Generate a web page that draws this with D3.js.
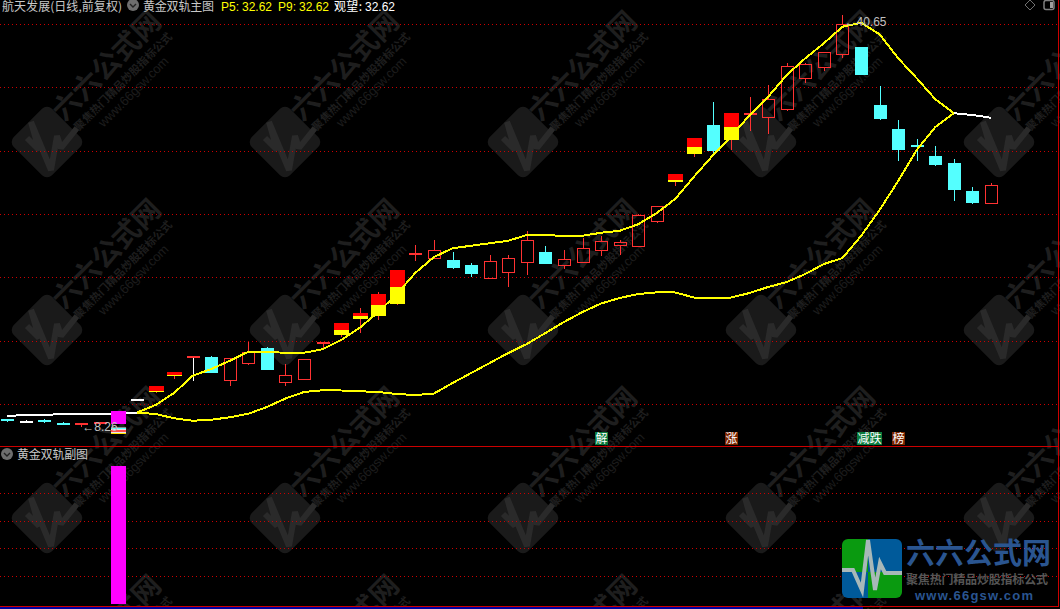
<!DOCTYPE html>
<html><head><meta charset="utf-8">
<style>html,body{margin:0;padding:0;background:#000;overflow:hidden}svg{display:block}text{font-family:"Noto Sans CJK SC","Liberation Sans",sans-serif}</style>
<script src="https://cdnjs.cloudflare.com/ajax/libs/d3/7.8.5/d3.min.js"></script>
</head><body><svg id="c" width="1060" height="609"></svg>
<script>
// kinds: d=cyan body, u=hollow red, s=red/yellow special, w=white line, r=red line, c=cyan line, t=red cap+white wick
const kinds=["d","w","d","c","r","r","s","w","s","s","t","d","u","u","d","u","u","r","s","s","s","s","r","u","d","d","u","u","u","d","u","u","u","u","u","u","s","s","d","s","r","u","u","u","u","u","d","d","d","c","d","d","d","u"];
const opens=[9.05,8.89,9.01,8.77,8.71,8.69,8.65,10.63,11.21,12.49,14.07,14.01,12.19,13.55,14.73,12.03,12.27,15.07,15.77,17.05,17.29,18.25,22.35,21.91,21.77,21.37,20.35,20.83,21.63,22.41,21.39,21.63,22.59,22.99,22.91,24.91,28.01,30.25,32.57,31.37,33.55,33.19,33.87,36.35,37.23,38.27,38.81,34.17,32.25,30.97,30.09,29.53,27.29,26.35];
const closes=[8.89,8.89,8.81,8.65,8.71,8.81,9.53,10.63,11.69,12.81,14.07,12.73,13.91,14.39,12.97,12.55,13.83,15.21,16.73,17.53,19.05,20.97,22.35,22.55,21.13,20.65,21.67,21.91,23.37,21.45,21.83,22.71,23.27,23.19,25.37,26.09,28.65,31.53,30.49,33.53,33.55,34.63,37.27,37.43,38.39,40.63,36.57,33.05,30.57,30.97,29.37,27.37,26.33,27.75];
const highs=[9.09,8.97,9.05,8.81,8.73,8.81,9.53,10.63,11.69,12.81,14.07,14.09,13.91,15.23,14.81,13.43,13.83,15.21,16.73,17.93,19.21,20.97,22.97,23.37,22.41,21.53,22.17,22.17,24.09,22.89,22.57,23.53,23.69,23.37,25.45,26.09,28.65,31.53,34.41,33.53,34.81,35.77,37.51,37.53,38.39,41.37,38.81,35.69,32.97,31.43,30.89,29.85,27.61,27.93];
const lows=[8.81,8.73,8.73,8.61,8.41,8.57,8.65,10.63,11.13,12.25,12.11,12.73,11.69,13.39,12.97,11.69,12.21,14.71,15.61,15.95,16.97,18.17,21.69,21.85,21.05,20.41,20.35,19.61,20.57,21.45,21.05,21.63,22.09,22.17,22.91,24.75,27.69,30.01,30.29,30.57,32.09,31.85,33.69,35.93,36.91,37.95,36.57,32.97,29.69,29.69,29.29,26.49,26.25,26.35];
// price where a special candle turns from red (above) to yellow (below), by candle index
const splits={6:9.0,8:11.33,9:12.57,18:16.17,19:17.29,20:18.17,21:19.61,36:28.17,37:30.81,39:32.41};
// P5 / P9 rails: white while they coincide, yellow once they separate
const whiteHead=[9.29,9.37,9.37,9.45,9.45,9.45,9.49,9.57];
const whiteTail=[33.51,33.37,33.15];
const upperRail=[9.57,10.17,11.13,12.51,13.05,13.71,14.43,14.41,14.35,14.35,14.63,15.37,16.35,17.61,19.05,20.75,22.01,22.71,22.91,23.11,23.31,23.77,23.77,23.69,23.71,23.95,24.11,24.63,25.53,26.67,28.43,30.11,31.63,33.37,34.83,36.57,37.91,39.11,40.43,40.75,39.83,37.91,36.31,34.63,33.51];
const lowerRail=[9.57,9.45,9.11,8.91,8.99,9.19,9.47,10.01,10.69,11.21,11.35,11.33,11.27,11.21,11.05,10.97,11.09,11.93,12.73,13.53,14.33,15.05,15.93,16.81,17.61,18.29,18.73,19.05,19.18,19.17,18.77,18.77,18.77,19.13,19.61,20.01,20.65,21.45,21.93,23.69,25.77,28.09,30.57,32.41,33.51];
const gridPrices=[40.63,35.57,30.47,25.41,20.35,15.29,10.23];
const subGrid=[20,40,60,80];
const signalIndex=6, signalMain=[9.69,8.65], signalSub=100;
const tags=[{t:"解",i:32,n:1,c:"#0a7a3c"},{t:"涨",i:39,n:1,c:"#7a2400"},{t:"减跌",i:46.1,n:2,c:"#0a7a3c"},{t:"榜",i:48,n:1,c:"#7a2400"}];
const titleMain="航天发展(日线,前复权)", titleInd="黄金双轨主图", titleSub="黄金双轨副图";
const readout=[["P5:",221,"#ffff00"],["32.62",242,"#ffff00"],["P9:",278,"#ffff00"],["32.62",299,"#ffff00"],["观望:",334,"#fff"],["32.62",365,"#fff"]];

const svg=d3.select("#c");
const W=1060,H=609;
svg.append("rect").attr("width",W).attr("height",H).attr("fill","#000");
const x=d3.scaleLinear().domain([0,53]).range([7,991]);
const y=d3.scaleLinear().domain([40.65,8.33]).range([24,428]);
const ySub=d3.scaleLinear().domain([0,100]).range([604,466]);
const cx=i=>Math.round(x(i));
const py=v=>Math.round(y(v));

// watermark tile
const wm=svg.append("g");
const rows=[-46,142,330,518,706],cols=[47,285,523,761,999];
rows.forEach(ry=>cols.forEach(rx=>{
  const g=wm.append("g").attr("transform",`translate(${rx},${ry})`);
  g.append("rect").attr("x",-27).attr("y",-27).attr("width",54).attr("height",54).attr("rx",7)
    .attr("transform","rotate(45)").attr("fill","#1a1a1a");
  g.append("path").attr("d","M-20,-4 L-8,8 L-16,-20 L4,28 L10,-6 L14,6 L30,-14").attr("fill","none")
    .attr("stroke","#2a2a2a").attr("stroke-width",6).attr("stroke-linejoin","bevel");
  const r=g.append("g").attr("transform","rotate(-45)");
  r.append("text").attr("x",26).attr("y",-2).attr("font-size",28).attr("font-weight",700).attr("textLength",140).attr("fill","#1e1e1e").text("六六公式网");
  r.append("text").attr("x",30).attr("y",15).attr("font-size",11).attr("font-weight",700).attr("textLength",133).attr("fill","#1e1e1e").text("聚焦热门精品炒股指标公式");
  r.append("text").attr("x",50).attr("y",30).attr("font-size",13).attr("textLength",93).attr("fill","#1c1c1c").style("font-family","Liberation Sans").text("www.66gsw.com");
}));

// grid
const dot={"stroke":"#cc0000","stroke-width":1,"stroke-dasharray":"1 3"};
function hline(yy,st){const l=svg.append("line").attr("x1",0).attr("x2",1058).attr("y1",yy+.5).attr("y2",yy+.5).attr("shape-rendering","crispEdges");Object.entries(st).forEach(([k,v])=>l.attr(k,v));}
gridPrices.forEach(p=>hline(Math.floor(y(p)),dot));
subGrid.forEach(v=>hline(Math.floor(ySub(v)),dot));

// candles
const CY="#54ffff",RD="#ff3232",REDF="#ff0000",YE="#ffff00";
const cg=svg.append("g").attr("shape-rendering","crispEdges");
function wick(g,xx,a,b,col){g.append("rect").attr("x",xx).attr("y",a).attr("width",1).attr("height",Math.max(b-a,1)).attr("fill",col);}
kinds.forEach((k,i)=>{
  const X=cx(i),top=py(Math.max(opens[i],closes[i])),bot=py(Math.min(opens[i],closes[i])),hi=py(highs[i]),lo=py(lows[i]);
  const g=cg.append("g");
  if(k==="u"){
    wick(g,X,hi,top,RD);wick(g,X,bot,lo,RD);
    g.append("rect").attr("x",X-6+.5).attr("y",top+.5).attr("width",12).attr("height",bot-top).attr("fill","none").attr("stroke",RD);
  }else if(k==="d"){
    wick(g,X,hi,lo,CY);
    g.append("rect").attr("x",X-6).attr("y",top).attr("width",13).attr("height",Math.max(bot-top,2)).attr("fill",CY);
  }else if(k==="s"){
    wick(g,X,hi,lo,RD);
    const s=py(splits[i]);
    g.append("rect").attr("x",X-7).attr("y",top).attr("width",15).attr("height",s-top).attr("fill",REDF);
    g.append("rect").attr("x",X-7).attr("y",s).attr("width",15).attr("height",bot-s).attr("fill",YE);
  }else{
    const lc=k==="w"?"#fff":k==="c"?CY:RD, wc=k==="t"?"#fff":lc;
    wick(g,X,hi,lo,wc);
    g.append("rect").attr("x",X-6).attr("y",top).attr("width",13).attr("height",Math.max(bot-top,2)).attr("fill",lc);
  }
});

// rails
const mkLine=off=>d3.line().x((d,i)=>x(i+off)).y(d=>y(d));
const rail=(data,off,col)=>svg.append("path").attr("d",mkLine(off)(data)).attr("fill","none").attr("stroke",col).attr("stroke-width",2).attr("shape-rendering","crispEdges").attr("stroke-linejoin","round");
rail(whiteHead,0,"#fff");rail(whiteTail,51,"#fff");rail(lowerRail,7,YE);rail(upperRail,7,YE);

// signal stick, both panels
const sx=cx(signalIndex);
svg.append("rect").attr("x",sx-7).attr("y",y(signalMain[0])).attr("width",15).attr("height",y(signalMain[1])-y(signalMain[0])).attr("fill","#ff00ff").attr("shape-rendering","crispEdges");
svg.append("rect").attr("x",sx-7).attr("y",ySub(signalSub)).attr("width",15).attr("height",ySub(0)-ySub(signalSub)).attr("fill","#ff00ff").attr("shape-rendering","crispEdges");

// squeezed tag under the signal
const sq=svg.append("g").attr("shape-rendering","crispEdges");
[["#8a8a8a",427,7],["#54ffff",428,1],["#e8e8e8",429,1],["#ff5050",430,2],["#e8e8e8",432,1],["#ffe000",433,1]].forEach(([c,yy,h])=>
  sq.append("rect").attr("x",sx-7).attr("y",yy).attr("width",15).attr("height",h).attr("fill",c));

// hi/lo labels
const gray="#c0c0c0";
svg.append("text").attr("x",x(4)+1).attr("y",py(lows[4])+4).attr("font-size",12).attr("fill",gray).style("font-family","Liberation Sans").text("←8.26");
svg.append("text").attr("x",x(45)+2).attr("y",26).attr("font-size",12).attr("fill",gray).style("font-family","Liberation Sans").text("←40.65");

// tags
tags.forEach(t=>{
  const X0=Math.round(x(t.i))-6,w=t.n*12+1;
  svg.append("rect").attr("x",X0).attr("y",432).attr("width",w).attr("height",13).attr("fill",t.c);
  svg.append("text").attr("x",X0+.5).attr("y",443).attr("font-size",12).attr("fill","#fff").text(t.t);
});

// frame
hline(446,{stroke:"#cc0000","stroke-width":1});
hline(606,{stroke:"#cc0000","stroke-width":1});
svg.append("line").attr("x1",1058.5).attr("x2",1058.5).attr("y1",0).attr("y2",607).attr("stroke","#cc0000").attr("shape-rendering","crispEdges");
svg.append("rect").attr("x",0).attr("y",607).attr("width",863).attr("height",2).attr("fill","#0000a0");

// title row
function badge(bx,by){
  svg.append("circle").attr("cx",bx).attr("cy",by).attr("r",6).attr("fill","#6e6e6e");
  svg.append("path").attr("d",`M${bx-3},${by-1} L${bx},${by+2} L${bx+3},${by-1}`).attr("fill","none").attr("stroke","#222").attr("stroke-width",1.4);
}
const tx=(s,xx,yy,col,len)=>{const t=svg.append("text").attr("x",xx).attr("y",yy).attr("font-size",12).attr("fill",col).text(s);if(len)t.attr("textLength",len);return t;};
tx(titleMain,2,11,"#c8c8c8",120);
badge(133,5);
tx(titleInd,143,11,"#c8c8c8",71);
readout.forEach(([s,xx,col])=>{
  const t=tx(s,xx,11,col,s==="32.62"?30:s==="观望:"?28:18);
  if(s!=="观望:") t.style("font-family","Liberation Sans");
});
badge(7,454);
tx(titleSub,17,459,"#c8c8c8",71);

// top-right icons
svg.append("path").attr("d","M1030,0 L1035,5 L1030,10 L1025,5 Z").attr("fill","none").attr("stroke","#707070");
svg.append("rect").attr("x",1044).attr("y",0.5).attr("width",10).attr("height",9).attr("rx",2).attr("fill","none").attr("stroke","#808080").attr("stroke-width",1.5);
svg.append("rect").attr("x",1050).attr("y",2).attr("width",3).attr("height",6).attr("fill","#a0a0a0");

// corner logo
const lg=svg.append("g");
const defs=svg.append("defs");
defs.append("clipPath").attr("id","lc").append("rect").attr("x",842).attr("y",539).attr("width",60).attr("height",59).attr("rx",6);
const lc=lg.append("g").attr("clip-path","url(#lc)");
[[842,539,26,33,"#0a9a10"],[868,539,34,33,"#005a9a"],[842,572,26,26,"#005a9a"],[868,572,34,26,"#0a9a10"]].forEach(([a,b,c,d,f])=>lc.append("rect").attr("x",a).attr("y",b).attr("width",c).attr("height",d).attr("fill",f));
lc.append("path").attr("d","M840,570 L853,570 L862,590 L868,540 L875,590 L880,563 L885,573 L904,573").attr("fill","none").attr("stroke","#a8b8b8").attr("stroke-width",4);
lg.append("text").attr("x",906).attr("y",564).attr("font-size",29).attr("font-weight",700).attr("textLength",145).attr("fill","#2a5590").text("六六公式网");
lg.append("text").attr("x",906).attr("y",584).attr("font-size",12).attr("font-weight",700).attr("textLength",142).attr("fill","#555").text("聚焦热门精品炒股指标公式");
lg.append("text").attr("x",915).attr("y",600).attr("font-size",13).attr("font-weight",700).attr("textLength",118).attr("fill","#2a5590").style("font-family","Liberation Sans").text("www.66gsw.com");
</script></body></html>
